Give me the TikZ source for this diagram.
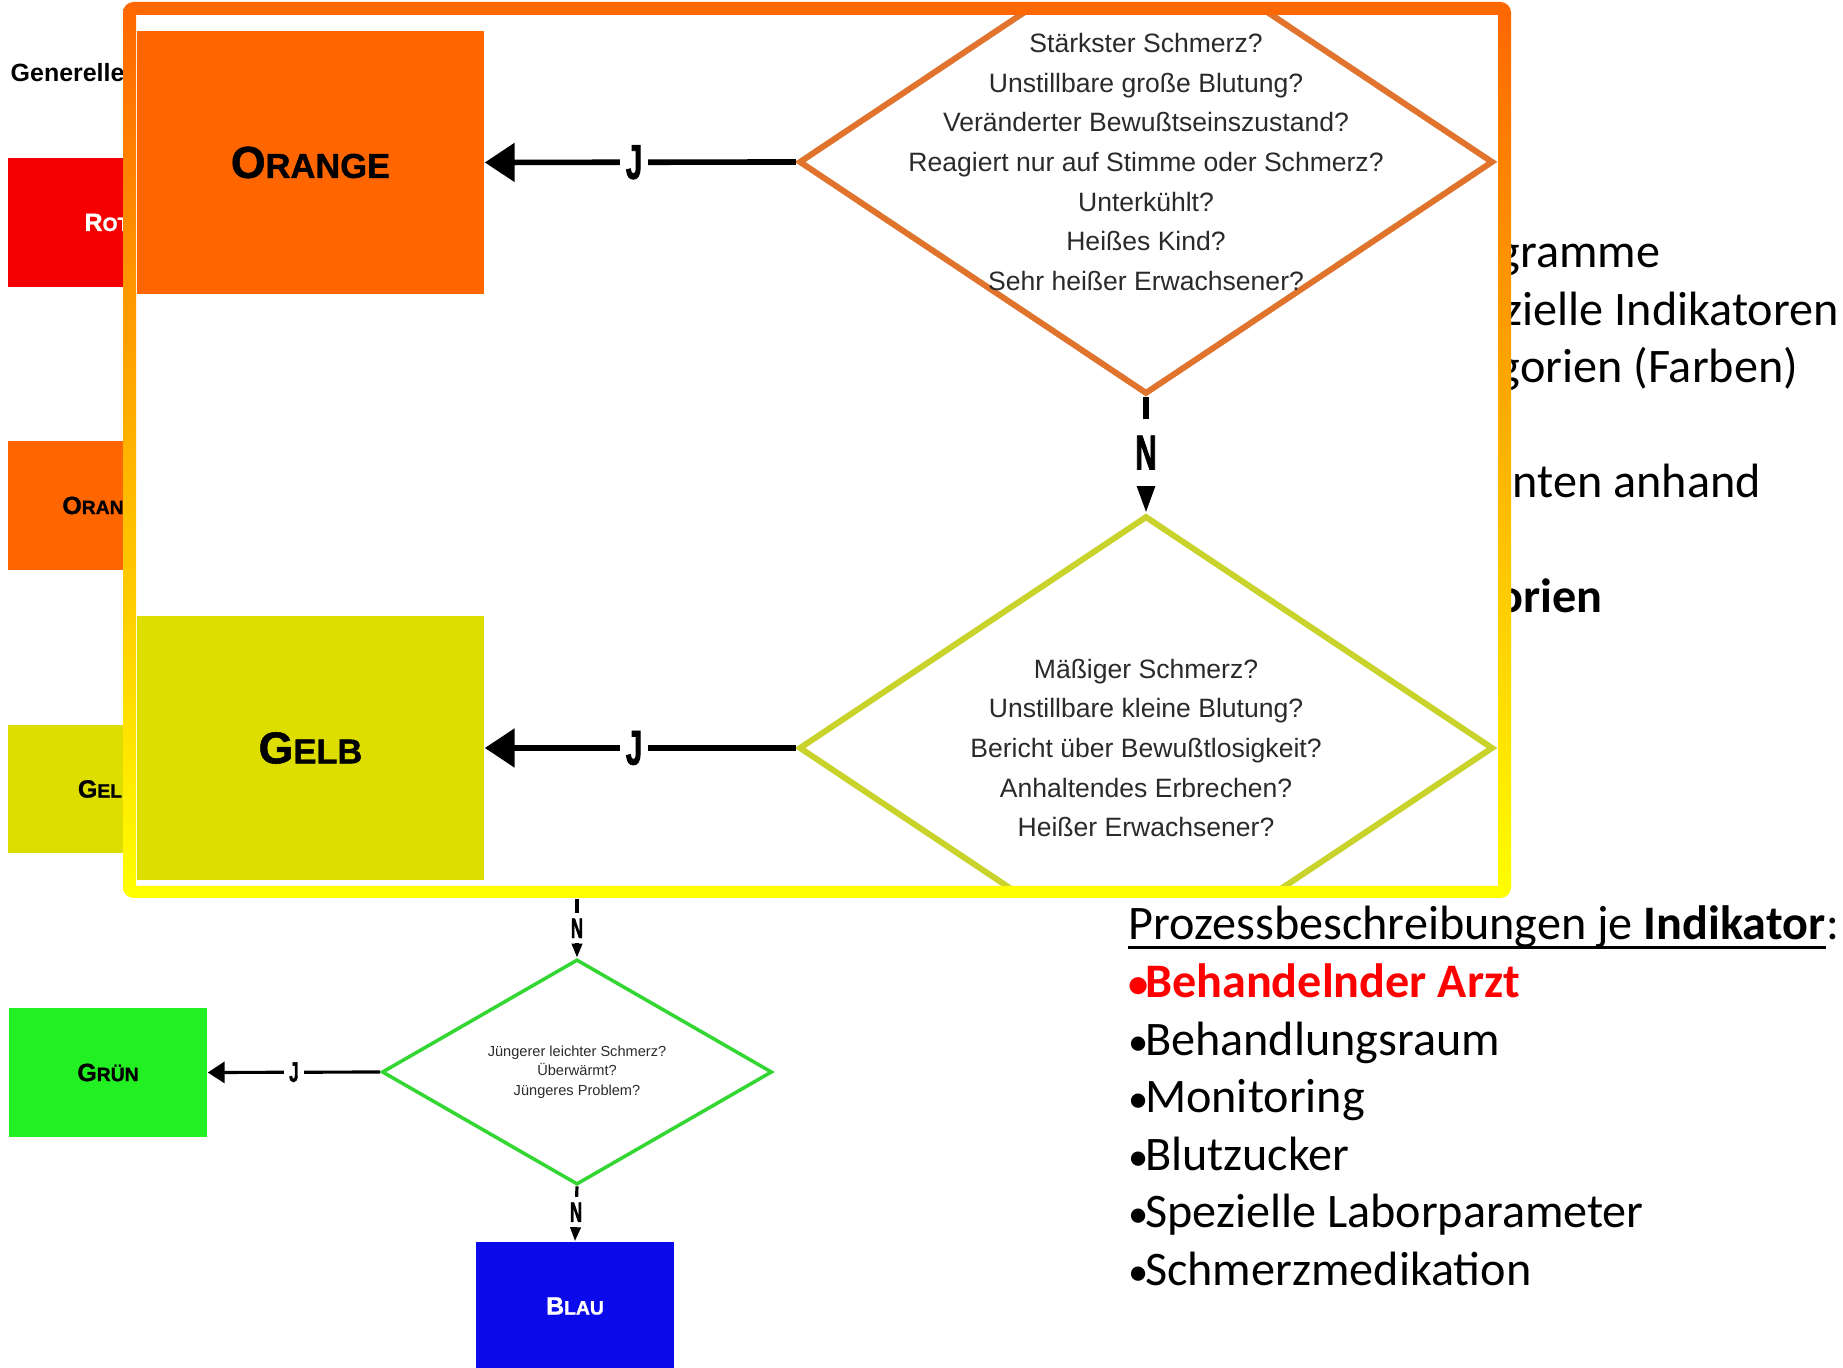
\documentclass[tikz,border=0pt]{standalone}
\usepackage{fontspec}
\usetikzlibrary{arrows.meta, shapes.geometric}
\setmainfont{Liberation Sans}
\newfontfamily\flowfont{Liberation Sans}
\newfontfamily\kfont{Liberation Sans}[FakeBold=1.2]
\newfontfamily\cfont{Liberation Sans}[FakeStretch=0.6, FakeBold=1.5]
\newfontfamily\slidefont{Carlito}

\definecolor{rotbox}{HTML}{F40000}
\definecolor{orangebox}{HTML}{FF6600}
\definecolor{gelbbox}{HTML}{DDDD00}
\definecolor{gruenbox}{HTML}{22F022}
\definecolor{blaubox}{HTML}{0A0AEB}
\definecolor{orangerand}{HTML}{E0742C}
\definecolor{gelbrand}{HTML}{CAD22C}
\definecolor{gruenrand}{HTML}{33D633}
\definecolor{rahmenoben}{HTML}{FF6600}
\definecolor{rahmenunten}{HTML}{FFFF00}
\definecolor{fragetext}{HTML}{2A2A2A}

\newcommand{\kapbig}[2]{{\fontsize{12.7}{14}\selectfont #1\fontsize{9.8}{14}\selectfont #2}}
\newcommand{\kapsmall}[2]{{\fontsize{7.1}{8}\selectfont #1\fontsize{5.5}{8}\selectfont #2}}
\newcommand{\pkt}{\makebox[0.34em][l]{\fontsize{11.5}{16}\selectfont •}}

\tikzset{
  grosskasten/.style={inner sep=0pt, minimum width=3.47cm, minimum height=2.63cm, font=\kfont\bfseries},
  kleinkasten/.style={inner sep=0pt, minimum width=1.98cm, minimum height=1.28cm, font=\kfont\bfseries},
  grossraute/.style={diamond, draw, line width=1.7pt, inner sep=0pt, minimum width=6.94cm, minimum height=4.64cm},
  kleinraute/.style={diamond, draw, line width=1pt, inner sep=0pt, minimum width=3.9cm, minimum height=2.25cm},
  grossfrage/.style={align=center, inner sep=0pt, text=fragetext, font=\flowfont\fontsize{7.55}{11.27}\selectfont},
  kleinfrage/.style={align=center, inner sep=0pt, text=fragetext, font=\flowfont\fontsize{4.15}{5.55}\selectfont},
  gpfeilh/.style={line width=1.6pt, -{Triangle[length=8.5pt, width=10.8pt]}},
  gpfeilv/.style={line width=1.6pt, -{Triangle[length=8pt, width=5.1pt]}},
  kpfeilh/.style={line width=0.9pt, -{Triangle[length=4.8pt, width=6pt]}},
  kpfeilv/.style={line width=0.9pt, -{Triangle[length=4pt, width=2.9pt]}},
  gmarkej/.style={fill=white, inner xsep=1.7pt, inner ysep=0pt, font=\cfont\bfseries\fontsize{13.9}{14}\selectfont},
  gmarken/.style={fill=white, inner xsep=0pt, inner ysep=4.7pt, font=\cfont\bfseries\fontsize{14}{14}\selectfont},
  kmarke/.style={fill=white, inner sep=1.5pt, font=\cfont\bfseries\fontsize{8}{8}\selectfont},
  rtext/.style={anchor=base west, inner sep=0pt, font=\slidefont\fontsize{13.7}{16}\selectfont}
}

\begin{document}
\begin{tikzpicture}[x=0.01cm, y=-0.01cm]
\useasboundingbox (0,0) rectangle (1843,1368);

% kleines Schema im Hintergrund
\node[anchor=base west, inner sep=0pt, font=\flowfont\bfseries\fontsize{7.1}{8}\selectfont] (generelle) at (10,82) {Generelle};
\node[kleinkasten, fill=rotbox, text=white] (krot) at (107,222.5) {\kapsmall{R}{OT}};
\node[kleinkasten, fill=orangebox] (korange) at (107,505.5) {\kapsmall{O}{RANGE}};
\node[kleinkasten, fill=gelbbox] (kgelb) at (107,789) {\kapsmall{G}{ELB}};
\node[kleinkasten, fill=gruenbox] (kgruen) at (108,1072.5) {\kapsmall{G}{RÜN}};
\node[kleinkasten, fill=blaubox, text=white] (kblau) at (575,1306) {\kapsmall{B}{LAU}};
\node[kleinraute, draw=gruenrand] (qgruen) at (577,1072) {};
\node[kleinfrage] (qgruen-text) at (qgruen) {Jüngerer leichter Schmerz?\\Überwärmt?\\Jüngeres Problem?};
\coordinate (ngelb) at (577,899);
\draw[kpfeilv] (ngelb) -- (qgruen.north) node[kmarke, pos=.5] {N};
\draw[kpfeilh] (qgruen.west) -- (kgruen.east) node[kmarke, midway] {J};
\draw[kpfeilv] (qgruen.south) -- (kblau.north) node[kmarke, pos=.47] {N};

% Text der Folie
\node[rtext] (t1) at (1497,268) {gramme};
\node[rtext] (t2) at (1503,326) {zielle Indikatoren};
\node[rtext] (t3) at (1497,383) {gorien (Farben)};
\node[rtext] (t4) at (1512,498) {nten anhand};
\node[rtext, font=\slidefont\bfseries\fontsize{13.7}{16}\selectfont] (t5) at (1497,613) {orien};
\node[rtext] (kopf) at (1128,940) {Prozessbeschreibungen je \textbf{Indikator}};
\node[rtext] (kolon) at (kopf.base east) {:};
\draw[line width=0.8pt] ([yshift=-2.2pt]kopf.base west) -- ([yshift=-2.2pt]kopf.base east);
\node[rtext, text=red] (p1) at (1128,997.5) {\textbf{\pkt Behandelnder Arzt}};
\node[rtext] (p2) at (1128,1055) {\pkt Behandlungsraum};
\node[rtext] (p3) at (1128,1112.5) {\pkt Monitoring};
\node[rtext] (p4) at (1128,1170) {\pkt Blutzucker};
\node[rtext] (p5) at (1128,1227.5) {\pkt Spezielle Laborparameter};
\node[rtext] (p6) at (1128,1285) {\pkt Schmerzmedikation};

% vergroesserter Ausschnitt
\fill[white, rounded corners=3pt] (123,2) rectangle (1511,898);
\begin{scope}
\clip (136,15) rectangle (1498,886);
\node[grosskasten, fill=orangebox] (borange) at (310.5,162.5) {\kapbig{O}{RANGE}};
\node[grosskasten, fill=gelbbox] (bgelb) at (310.5,748) {\kapbig{G}{ELB}};
\node[grossraute, draw=orangerand] (qorange) at (1146,162) {};
\node[grossraute, draw=gelbrand] (qgelb) at (1146,748) {};
\node[grossfrage] (qorange-text) at (qorange) {Stärkster Schmerz?\\Unstillbare große Blutung?\\Veränderter Bewußtseinszustand?\\Reagiert nur auf Stimme oder Schmerz?\\Unterkühlt?\\Heißes Kind?\\Sehr heißer Erwachsener?};
\node[grossfrage] (qgelb-text) at (qgelb) {Mäßiger Schmerz?\\Unstillbare kleine Blutung?\\Bericht über Bewußtlosigkeit?\\Anhaltendes Erbrechen?\\Heißer Erwachsener?};
\draw[gpfeilh] (qorange.west) -- (borange.east) node[gmarkej, pos=.52] {J};
\draw[gpfeilh] (qgelb.west) -- (bgelb.east) node[gmarkej, pos=.52] {J};
\draw[gpfeilv] (qorange.south) -- (qgelb.north) node[gmarken, pos=.48] {N};
\end{scope}
\shade[top color=rahmenoben, bottom color=rahmenunten, even odd rule]
  [rounded corners=3pt] (123,2) rectangle (1511,898)
  [sharp corners] (136,15) rectangle (1498,886);
\end{tikzpicture}
\end{document}
